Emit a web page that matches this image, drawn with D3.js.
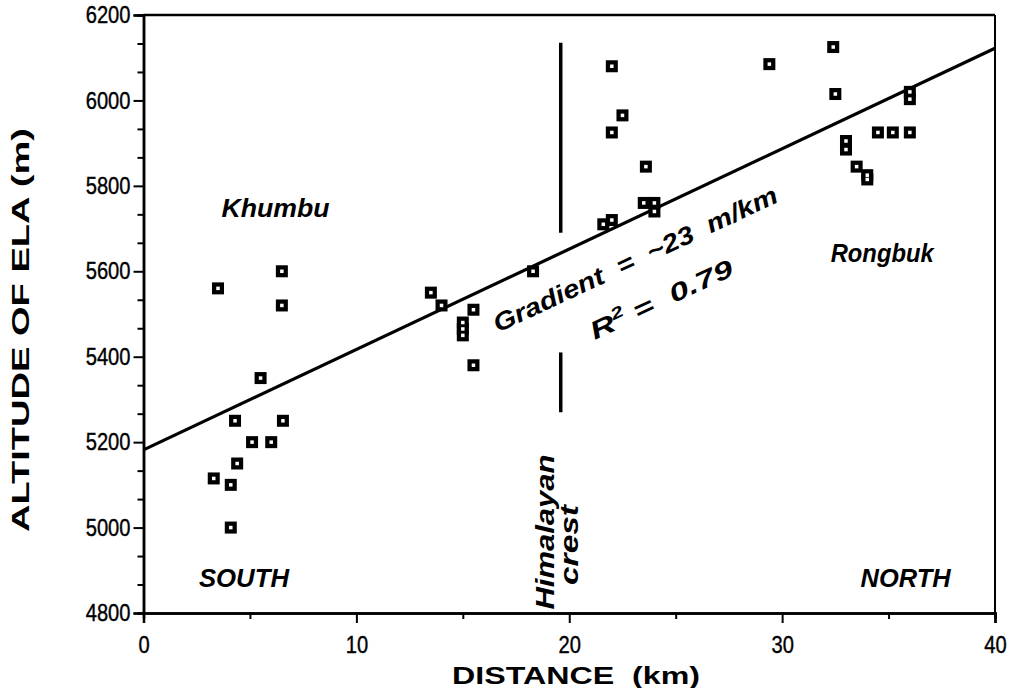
<!DOCTYPE html>
<html><head><meta charset="utf-8">
<script src="https://cdn.jsdelivr.net/npm/d3@7"></script>
<style>
html,body{margin:0;padding:0;background:#fff;}
svg{display:block;}
text{font-family:"Liberation Sans",Arial,Helvetica,sans-serif;fill:#000;}
</style></head>
<body><svg id="c" width="1012" height="688"></svg>
<script>
// ---- data ----
const distance = [3.5,6.5,6.5,5.5,4.3,6.55,5.1,6.0,4.4,3.3,4.1,4.1,
  13.5,14.0,15.5,15.0,15.0,15.0,15.5,18.3,
  22.0,22.5,22.0,23.6,23.5,24.0,24.0,21.6,22.0,
  32.4,29.4,32.5,36.0,36.0,34.5,35.2,36.0,33.0,33.0,33.5,34.0,34.0];
const altitude = [5560,5600,5520,5350,5250,5250,5200,5200,5150,5115,5100,5000,
  5550,5520,5510,5480,5465,5450,5380,5600,
  6080,5965,5925,5845,5760,5760,5740,5710,5720,
  6125,6085,6015,6020,6003,5925,5925,5925,5905,5885,5845,5825,5815];
const xTicks = [0,10,20,30,40];
const yTicks = [4800,5000,5200,5400,5600,5800,6000,6200];
const regIntercept = 5182;   // m at 0 km
const regSlope = 23.5;       // m per km
const crestX = 19.6;
const crestUpper = [5690,6135];
const crestLower = [5270,5410];

const svg = d3.select("#c");
const x = d3.scaleLinear().domain([0,40]).range([143.5,995]);
const y = d3.scaleLinear().domain([4800,6200]).range([613,15]);

// minor ticks
const xMinor = d3.range(5,40,10);
const yMinor = d3.range(4800,6200,200/3).filter((v,i)=>i%3!==0);

const gx = svg.append("g").attr("transform","translate(0,613)");
gx.call(d3.axisBottom(x).tickValues(xTicks).tickSize(10).tickPadding(13).tickFormat(d3.format("d")));
gx.append("g").call(d3.axisBottom(x).tickValues(xMinor).tickSize(6).tickFormat(""));
const gy = svg.append("g").attr("transform","translate(143.5,0)");
gy.call(d3.axisLeft(y).tickValues(yTicks).tickSize(10).tickPadding(3).tickFormat(d3.format("d")));
gy.append("g").call(d3.axisLeft(y).tickValues(yMinor).tickSize(6).tickFormat(""));
svg.selectAll(".domain").attr("stroke","#000").attr("stroke-width",2.5);
svg.selectAll(".tick line").attr("stroke","#000").attr("stroke-width",2);
svg.selectAll(".tick text").style("font-size","24px").attr("fill","#000")
  .attr("stroke","#000").attr("stroke-width",0.4)
  .attr("textLength",function(){return this.textContent.length*11.2;})
  .attr("lengthAdjust","spacingAndGlyphs");

// frame top/right
svg.append("line").attr("x1",x(0)).attr("x2",x(40)).attr("y1",y(6200)).attr("y2",y(6200)).attr("stroke","#000").attr("stroke-width",2.5);
svg.append("line").attr("x1",x(40)).attr("x2",x(40)).attr("y1",y(6200)).attr("y2",y(4800)).attr("stroke","#000").attr("stroke-width",2);

// regression line
svg.append("line").attr("x1",x(0)).attr("y1",y(regIntercept))
  .attr("x2",x(40)).attr("y2",y(regIntercept+regSlope*40))
  .attr("stroke","#000").attr("stroke-width",3.2);

// crest segments
[crestUpper,crestLower].forEach(s=>{
  svg.append("line").attr("x1",x(crestX)).attr("x2",x(crestX))
    .attr("y1",y(s[0])).attr("y2",y(s[1])).attr("stroke","#000").attr("stroke-width",3.5);
});

// points
const pts = d3.zip(distance,altitude);
const g = svg.append("g");
g.selectAll("rect.o").data(pts).join("rect").attr("class","o")
  .attr("x",d=>x(d[0])-6).attr("y",d=>y(d[1])-6).attr("width",12).attr("height",12).attr("fill","#000");
g.selectAll("rect.i").data(pts).join("rect").attr("class","i")
  .attr("x",d=>x(d[0])-1.75).attr("y",d=>y(d[1])-1.75).attr("width",3.5).attr("height",3.5)
  .attr("fill","#fff");

// labels
function lab(t,px,py,opts={}){
  const e = svg.append("text").attr("x",px).attr("y",py).text(t)
    .style("font-size",(opts.size||26)+"px").style("font-weight","bold")
    .style("font-style",opts.italic===false?"normal":"italic")
    .attr("text-anchor",opts.anchor||"middle")
    .style("white-space","pre");
  if(opts.len) e.attr("textLength",opts.len).attr("lengthAdjust",opts.adj||"spacingAndGlyphs");
  if(opts.rot!==undefined) e.attr("transform",`rotate(${opts.rot},${px},${py})`);
  return e;
}
lab("Khumbu",x(6.2),y(5727),{len:108});
lab("SOUTH",x(4.72),y(4861),{len:90});
lab("NORTH",x(35.8),y(4861),{len:90});
lab("Rongbuk",x(34.7),y(5622),{len:103});
lab("Himalayan",554,532,{rot:-90,len:155});
lab("crest",578,545,{rot:-90,len:80});
lab("Gradient  =  ~23  m/km",x(16.65),y(5456),{anchor:"start",rot:-25,size:25,len:311});
const r = lab("R",x(21.2),y(5439),{anchor:"start",rot:-25,size:25,len:155});
r.append("tspan").attr("dy",-10).style("font-size","16px").text("2");
r.append("tspan").attr("dy",10).text(" =  0.79");

// axis titles
lab("DISTANCE  (km)",576,684,{italic:false,size:24,len:248});
lab("ALTITUDE OF ELA (m)",29,330,{italic:false,size:23,rot:-90,len:404});
</script></body></html>
